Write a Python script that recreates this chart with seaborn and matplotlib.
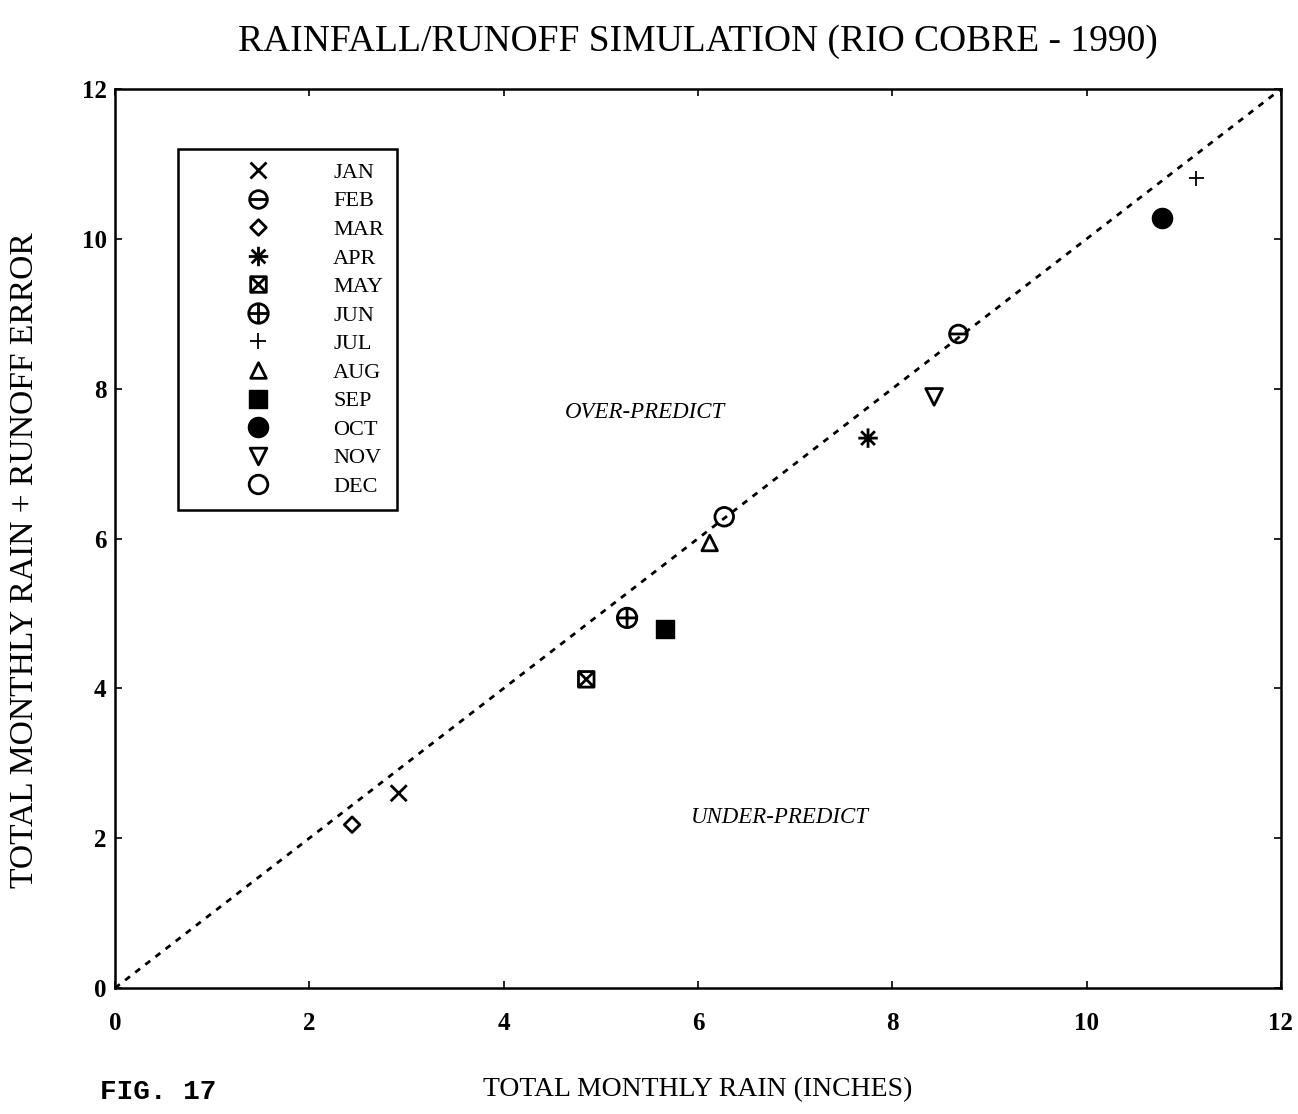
import numpy as np
import pandas as pd
import matplotlib
matplotlib.use("Agg")
import matplotlib.pyplot as plt
from matplotlib.path import Path
from matplotlib.lines import Line2D
import seaborn as sns

# Monthly values (inches)
months = ["JAN", "FEB", "MAR", "APR", "MAY", "JUN",
          "JUL", "AUG", "SEP", "OCT", "NOV", "DEC"]
total_rain = [2.92, 8.68, 2.44, 7.75, 4.85, 5.27, 11.13, 6.12, 5.66, 10.78, 8.43, 6.27]
rain_plus_error = [2.60, 8.73, 2.18, 7.34, 4.12, 4.94, 10.81, 5.94, 4.79, 10.28, 7.89, 6.29]
ticks = [0, 2, 4, 6, 8, 10, 12]

df = pd.DataFrame({"month": months, "rain": total_rain, "total": rain_plus_error})

sns.set_style("ticks")
plt.rcParams["font.family"] = ["Liberation Serif", "DejaVu Serif"]
plt.rcParams.update({"text.color": "black", "axes.labelcolor": "black",
                     "xtick.color": "black", "ytick.color": "black",
                     "axes.edgecolor": "black"})


def segments(*segs):
    verts, codes = [], []
    for p0, p1 in segs:
        verts += [p0, p1]
        codes += [Path.MOVETO, Path.LINETO]
    return Path(verts, codes)


def closed(*pts):
    verts = list(pts) + [pts[0]]
    codes = [Path.MOVETO] + [Path.LINETO] * (len(pts) - 1) + [Path.CLOSEPOLY]
    return Path(verts, codes)


circle = Path.unit_circle()
square = closed((-1, -1), (1, -1), (1, 1), (-1, 1))
d = 0.7071
cross = segments(((-1, -1), (1, 1)), ((-1, 1), (1, -1)))
plus = segments(((-1, 0), (1, 0)), ((0, -1), (0, 1)))

marker_paths = {
    "JAN": cross,
    "FEB": Path.make_compound_path(circle, segments(((-1, 0), (1, 0)))),
    "MAR": closed((0, -1), (1, 0), (0, 1), (-1, 0)),
    "APR": segments(((-1, 0), (1, 0)), ((0, -1), (0, 1)),
                    ((-d, -d), (d, d)), ((-d, d), (d, -d))),
    "MAY": Path.make_compound_path(square, cross),
    "JUN": Path.make_compound_path(circle, plus),
    "JUL": plus,
    "AUG": closed((0, 1), (-1, -1), (1, -1)),
    "SEP": square,
    "OCT": circle,
    "NOV": closed((0, -1), (1, 1), (-1, 1)),
    "DEC": circle,
}
marker_size = {"JAN": 11.5, "FEB": 12.7, "MAR": 11.2, "APR": 14.0, "MAY": 11.2,
               "JUN": 14.0, "JUL": 11.0, "AUG": 11.2, "SEP": 13.5, "OCT": 14.5,
               "NOV": 12.0, "DEC": 13.4}
face = {m: "none" for m in months}
face["SEP"] = "black"
face["OCT"] = "black"
edge_width = {m: 2.0 for m in months}
edge_width["JUL"] = 1.3
edge_width["SEP"] = 1.0
edge_width["OCT"] = 1.0

fig = plt.figure(figsize=(12.98, 11.14), dpi=100)
ax = fig.add_axes([115 / 1298, 1 - 988 / 1114, 1166 / 1298, 899 / 1114])

# 1:1 reference line
line_df = pd.DataFrame({"x": [ticks[0], ticks[-1]], "y": [ticks[0], ticks[-1]]})
sns.lineplot(data=line_df, x="x", y="y", ax=ax, color="black", linewidth=2.0,
             linestyle=(0, (2.2, 2.4)), zorder=2)

for _, row in df.iterrows():
    m = row["month"]
    sns.scatterplot(x=[row["rain"]], y=[row["total"]], ax=ax, marker=marker_paths[m],
                    s=marker_size[m] ** 2, color="black", facecolor=face[m],
                    edgecolor="black", linewidth=edge_width[m], legend=False, zorder=3)

ax.set_xlim(ticks[0], ticks[-1])
ax.set_ylim(ticks[0], ticks[-1])
ax.set_xticks(ticks)
ax.set_yticks(ticks)
ax.tick_params(direction="in", length=5, width=1.2, top=True, right=True,
               labelsize=18, colors="black")
ax.tick_params(axis="x", pad=17)
ax.tick_params(axis="y", pad=6)
for lab in ax.get_xticklabels() + ax.get_yticklabels():
    lab.set_fontweight("bold")
for sp in ax.spines.values():
    sp.set_linewidth(1.8)
    sp.set_color("black")

ax.set_xlabel("TOTAL MONTHLY RAIN (INCHES)", fontsize=20)
ax.xaxis.set_label_coords(0.5, (988 - 1090) / 899)
ax.xaxis.label.set_va("center")
ax.set_ylabel("TOTAL MONTHLY RAIN + RUNOFF ERROR", fontsize=24.2)
ax.yaxis.set_label_coords((25 - 115) / 1166, (988 - 560) / 899)
ax.yaxis.label.set_va("center")
ax.yaxis.label.set_ha("center")

ax.text(0.5, (988 - 42) / 899, "RAINFALL/RUNOFF SIMULATION (RIO COBRE - 1990)",
        transform=ax.transAxes, ha="center", va="center", fontsize=27)

ax.text(5.45, 7.68, "OVER-PREDICT", ha="center", va="center", fontsize=16.5,
        style="italic")
ax.text(6.84, 2.28, "UNDER-PREDICT", ha="center", va="center", fontsize=16.5,
        style="italic")

fig.text(100 / 1298, 1 - 1092 / 1114, "FIG. 17", ha="left", va="center",
         fontsize=20, fontweight="bold", family=["Liberation Mono", "DejaVu Sans Mono"])

handles = [Line2D([], [], linestyle="none", marker=marker_paths[m],
                  markersize=marker_size[m], markerfacecolor=face[m],
                  markeredgecolor="black", markeredgewidth=edge_width[m])
           for m in months]
leg = ax.legend(handles, months, loc="upper left",
                bbox_to_anchor=((178 - 115) / 1166, (988 - 149) / 899),
                borderaxespad=0, fontsize=16, frameon=True, fancybox=False,
                handlelength=6.0, handletextpad=0.38, borderpad=0.6,
                labelspacing=0.36, numpoints=1)
frame = leg.get_frame()
frame.set_edgecolor("black")
frame.set_linewidth(1.8)
frame.set_facecolor("white")
frame.set_alpha(1)

fig.savefig("out.png", dpi=100, facecolor="white")
